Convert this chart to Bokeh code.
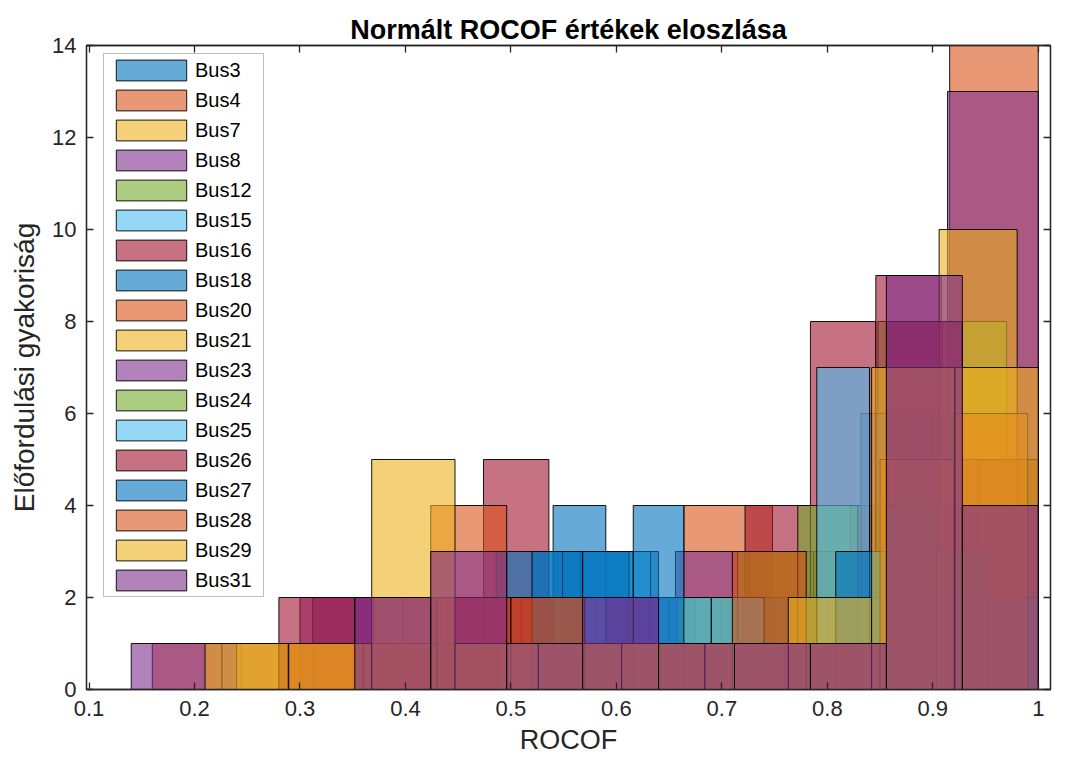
import numpy as np
from bokeh.plotting import figure
from bokeh.models import Range1d, LinearAxis, Legend, LegendItem, FixedTicker
from bokeh.embed import file_html
from bokeh.resources import INLINE

# ---- data -------------------------------------------------------------
buses = ["Bus3", "Bus4", "Bus7", "Bus8", "Bus12", "Bus15", "Bus16", "Bus18", "Bus20",
         "Bus21", "Bus23", "Bus24", "Bus25", "Bus26", "Bus27", "Bus28", "Bus29", "Bus31"]
bin_min = [0.49, 0.16, 0.43, 0.14, 0.36, 0.30, 0.35, 0.36, 0.28,
           0.24, 0.30, 0.43, 0.49, 0.28, 0.52, 0.29, 0.21, 0.28]
bin_max = [0.99, 1.00, 0.99, 1.00, 0.97, 0.965, 0.97, 0.99, 1.00,
           0.98, 1.00, 1.00, 0.99, 1.00, 1.00, 0.99, 1.00, 1.00]
counts = [
    [1, 4, 3, 2, 2, 1, 2, 4, 3, 3],     # Bus3
    [1, 1, 1, 1, 2, 1, 4, 1, 2, 14],    # Bus4
    [1, 1, 1, 1, 1, 1, 1, 4, 6, 5],     # Bus7
    [1, 1, 2, 2, 1, 2, 3, 1, 2, 13],    # Bus8
    [1, 0, 1, 0, 1, 2, 3, 3, 8, 8],     # Bus12
    [1, 1, 1, 1, 3, 2, 1, 2, 6, 5],     # Bus15
    [1, 1, 5, 1, 1, 1, 4, 8, 9, 3],     # Bus16
    [1, 1, 3, 3, 2, 1, 2, 2, 5, 3],     # Bus18
    [1, 1, 4, 2, 1, 1, 1, 1, 3, 4],     # Bus20
    [1, 1, 1, 1, 1, 1, 1, 1, 2, 10],    # Bus21
    [2, 1, 2, 2, 2, 2, 2, 2, 4, 4],     # Bus23
    [1, 1, 1, 1, 2, 3, 4, 2, 3, 5],     # Bus24
    [1, 2, 1, 2, 2, 1, 7, 3, 2, 2],     # Bus25
    [2, 2, 2, 2, 1, 1, 1, 1, 8, 5],     # Bus26
    [3, 3, 4, 1, 1, 1, 3, 4, 3, 2],     # Bus27
    [1, 1, 2, 2, 1, 1, 3, 1, 5, 6],     # Bus28
    [1, 1, 5, 1, 1, 1, 1, 2, 7, 7],     # Bus29
    [0, 2, 3, 1, 2, 1, 1, 1, 9, 4],     # Bus31
]
x_ticks = [0.1, 0.2, 0.3, 0.4, 0.5, 0.6, 0.7, 0.8, 0.9, 1.0]
x_tick_labels = ["0.1", "0.2", "0.3", "0.4", "0.5", "0.6", "0.7", "0.8", "0.9", "1"]
y_ticks = [0, 2, 4, 6, 8, 10, 12, 14]

palette = ["#0072BD", "#D95319", "#EDB120", "#7E2F8E", "#77AC30", "#4DBEEE", "#A2142F"]

FONT = "Liberation Sans"
AX = "#262626"

p = figure(width=1077, height=767, output_backend="svg", toolbar_location=None,
           x_range=Range1d(0.0976, 1.0116), y_range=Range1d(0, 14),
           min_border_left=86, min_border_right=27, min_border_top=45, min_border_bottom=78)
p.title.text = "Normált ROCOF értékek eloszlása"
p.title.align = "center"
p.title.offset = 15
p.title.text_font = FONT
p.title.text_font_size = "27px"
p.title.text_font_style = "bold"
p.title.text_color = "black"
p.title.standoff = 2

p.background_fill_color = "white"
p.border_fill_color = "white"
p.grid.visible = False
p.outline_line_color = AX
p.outline_line_width = 1.3

items = []
for i, name in enumerate(buses):
    edges = np.linspace(bin_min[i], bin_max[i], len(counts[i]) + 1)
    c = np.array(counts[i])
    keep = c > 0
    r = p.quad(left=edges[:-1][keep], right=edges[1:][keep], top=c[keep], bottom=0,
               fill_color=palette[i % 7], fill_alpha=0.6,
               line_color="black", line_width=1, line_alpha=0.9)
    items.append(LegendItem(label=name, renderers=[r]))

legend = Legend(items=items)
legend.glyph_width = 88
legend.glyph_height = 26
legend.label_height = 26
legend.label_width = 65
legend.spacing = 4
legend.padding = 3
legend.margin = 0
legend.label_standoff = 0
legend.label_text_font = FONT
legend.label_text_font_size = "20px"
legend.label_text_color = "black"
legend.border_line_color = "#7f7f7f"
legend.border_line_width = 1
legend.background_fill_alpha = 1
legend.location = (17, 92)
p.add_layout(legend, "center")

def style_axis(ax):
    ax.axis_line_color = AX
    ax.axis_line_width = 1.3
    ax.major_tick_line_color = AX
    ax.major_tick_line_width = 1.3
    ax.major_tick_in = 7
    ax.major_tick_out = 0
    ax.minor_tick_line_color = None
    ax.major_label_text_font = FONT
    ax.major_label_text_font_size = "22px"
    ax.major_label_text_color = AX

xa = p.xaxis[0]
xa.ticker = FixedTicker(ticks=x_ticks)
xa.major_label_overrides = {t: l for t, l in zip(x_ticks, x_tick_labels)}
xa.axis_label = "ROCOF"
xa.axis_label_text_font = FONT
xa.axis_label_text_font_size = "27px"
xa.axis_label_text_font_style = "normal"
xa.axis_label_text_color = AX
style_axis(xa)
xa.major_label_standoff = 11
xa.axis_label_standoff = 6

ya = p.yaxis[0]
ya.ticker = FixedTicker(ticks=y_ticks)
ya.axis_label = "Előfordulási gyakoriság"
ya.axis_label_text_font = FONT
ya.axis_label_text_font_size = "28px"
ya.axis_label_text_font_style = "normal"
ya.axis_label_text_color = AX
style_axis(ya)
ya.major_label_standoff = 10
ya.axis_label_standoff = 9

top = LinearAxis(ticker=FixedTicker(ticks=x_ticks))
style_axis(top)
top.major_label_overrides = {t: "" for t in x_ticks}
p.add_layout(top, "above")
right = LinearAxis(ticker=FixedTicker(ticks=y_ticks))
style_axis(right)
right.major_label_overrides = {t: "" for t in y_ticks}
p.add_layout(right, "right")

open("out.html", "w").write(file_html(p, INLINE))
